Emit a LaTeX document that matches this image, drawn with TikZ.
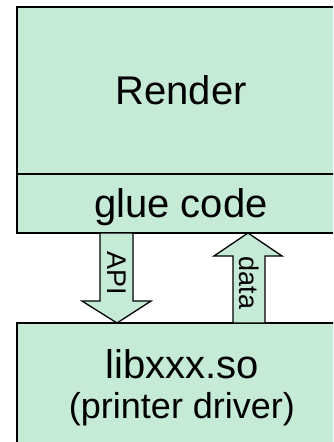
\documentclass[tikz,border=0pt]{standalone}
\usepackage{fontspec}
\setmainfont{Liberation Sans}
\definecolor{boxfill}{HTML}{C5EBD7}
\begin{document}
\begin{tikzpicture}[x=1pt,y=-1pt,
  box/.style={draw=black,line width=1.5pt,fill=boxfill},
  arr/.style={draw=black,line width=1.3pt,fill=boxfill,line join=miter},
  big/.style={font=\fontsize{40}{44}\selectfont,inner sep=0pt},
  small/.style={font=\fontsize{36}{40}\selectfont,inner sep=0pt},
  lab/.style={font=\fontsize{27}{30}\selectfont,inner sep=0pt,rotate=-90}]
\useasboundingbox (0,0) rectangle (333,442);
\clip (0,0) rectangle (333,442);
\fill[white] (0,0) rectangle (333,442);
% top box
\draw[box] (17,7) rectangle (350,233);
\draw[line width=1.5pt] (17,174) -- (350,174);
% bottom box
\draw[box] (17,323) rectangle (350,460);
% API arrow (down)
\draw[arr] (100,233) -- (133,233) -- (133,301) -- (151,301) -- (117,323) -- (82,301) -- (100,301) -- cycle;
% data arrow (up)
\draw[arr] (233,323) -- (265,323) -- (265,256) -- (282,256) -- (248,233) -- (214,256) -- (233,256) -- cycle;
% texts
\node[big] (render) at (181,90) {Render};
\node[big,anchor=base] (glue) at (181,217) {glue code};
\node[big,anchor=base] (lib) at (182,378) {libxxx.so};
\node[small,anchor=base] (drv) at (182,418) {(printer driver)};
\node[lab] (api) at (117,273) {API};
\node[lab] (data) at (249,283) {data};
\end{tikzpicture}
\end{document}
